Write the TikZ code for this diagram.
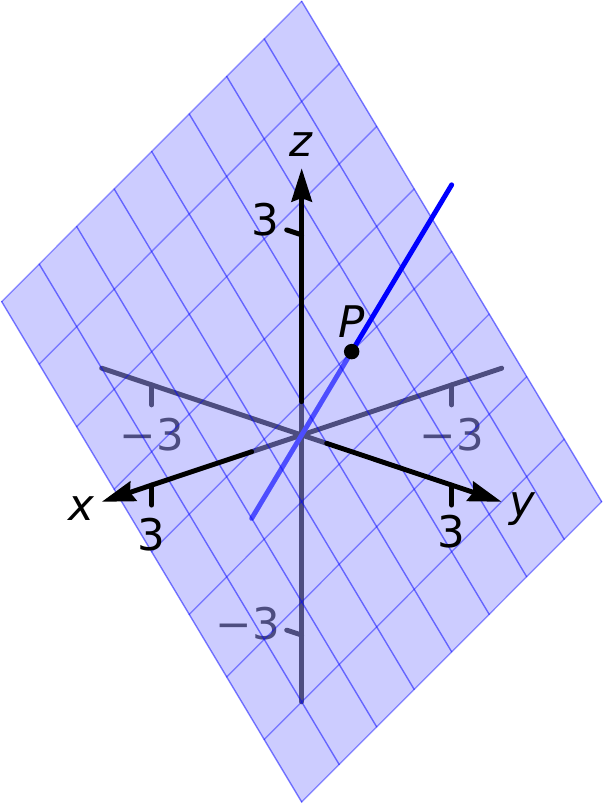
\documentclass[tikz,border=0pt]{standalone}
\usepackage{fontspec}
\setmainfont{DejaVu Sans}
\usepackage{tikz}
\usetikzlibrary{arrows.meta}

\definecolor{planecol}{RGB}{154,154,255}

\begin{document}
\begin{tikzpicture}[x={(-0.5cm,-0.167cm)}, y={(0.5cm,-0.167cm)}, z={(0cm,0.667cm)},
    >={Stealth[length=9.5pt, width=5.8pt, inset=1pt]}, line cap=round,
    font=\fontsize{12.4}{15}\selectfont,
    axis/.style={line width=1.4pt},
    meshline/.style={blue, line width=0.4pt}]
  \useasboundingbox (-3.017cm,-3.69cm) rectangle (3.023cm,4.35cm);
  \coordinate (O) at (0,0,0);
  \coordinate (P) at (-1,0,1);
  \coordinate (Lend) at (-3,0,3);
  \coordinate (Lstart) at (1,0,-1);
  % parts behind the plane
  \draw[axis] (-4,0,0) -- (1,0,0);
  \draw[axis] (0,-4,0) -- (0,0.5,0);
  \draw[axis] (0,0,-4) -- (0,0,0.5);
  \draw[axis] (-3,0,0) -- (-3,0,-0.3);
  \draw[axis] (0,-3,0) -- (0,-3,-0.3);
  \draw[axis] (0,0,-3) -- (0,-0.3,-3);
  \node (xneg) at (-3,0,-0.75) {−3};
  \node (yneg) at (0,-3,-0.75) {−3};
  \node (zneg) at (0,-1.08,-3.1) {−3};
  \draw[blue, line width=1.4pt] (Lstart) -- (P);
  % plane x+2y+2z=1
  \fill[planecol, fill opacity=0.5] (-3,-3,5) -- (3,-3,2) -- (3,3,-4) -- (-3,3,-1) -- cycle;
  \foreach \t in {-3,-2.25,...,3}{
    \draw[meshline, opacity=0.5] (\t,-3,{(7-(\t))/2}) -- (\t,3,{(-5-(\t))/2});
    \draw[meshline, opacity=0.4] (-3,\t,{(4-2*(\t))/2}) -- (3,\t,{(-2-2*(\t))/2});
  }
  % parts in front
  \draw[axis, ->] (1,0,0) -- (4,0,0);
  \draw[axis, ->] (0,0.5,0) -- (0,4,0);
  \draw[axis, ->] (0,0,0.5) -- (0,0,4);
  \draw[axis] (3,0,0) -- (3,0,-0.3);
  \draw[axis] (0,3,0) -- (0,3,-0.3);
  \draw[axis] (0,0,3) -- (0,-0.3,3);
  \node (xpos) at (3,0,-0.75) {3};
  \node (ypos) at (0,3,-0.7) {3};
  \node (zpos) at (0,-0.72,3.05) {3};
  \node (xlab) at (4.41,0,0) {\textit{x}};
  \node (ylab) at (0,4.41,0) {\textit{y}};
  \node (zlab) at (0,0,4.35) {\textit{z}};
  \draw[blue, line width=1.4pt] (P) -- (Lend);
  \fill (P) circle (2.2pt);
  \node (Plab) at (-1,0,1.45) {\textit{P}};
\end{tikzpicture}
\end{document}
